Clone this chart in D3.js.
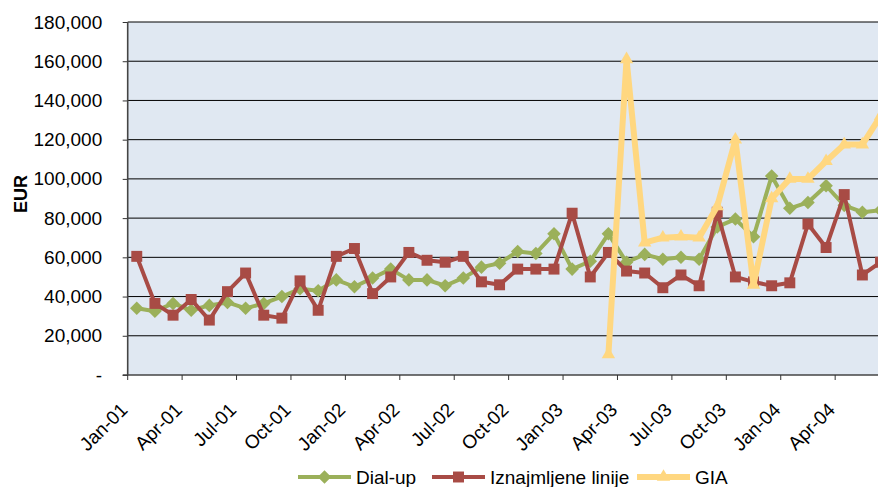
<html><head>
<meta charset="utf-8">
<script src="https://d3js.org/d3.v7.min.js"></script>
<style>
  body { margin: 0; background: white; font-family: "Liberation Sans", Arial, sans-serif; }
  .tick text { font-size: 19px; fill: #000; }
</style>
</head>
<body>
<div id="chart"></div>
<script>
// months Jan-01 .. Jun-04
var months = ["Jan-01","Feb-01","Mar-01","Apr-01","May-01","Jun-01","Jul-01","Aug-01","Sep-01","Oct-01","Nov-01","Dec-01",
  "Jan-02","Feb-02","Mar-02","Apr-02","May-02","Jun-02","Jul-02","Aug-02","Sep-02","Oct-02","Nov-02","Dec-02",
  "Jan-03","Feb-03","Mar-03","Apr-03","May-03","Jun-03","Jul-03","Aug-03","Sep-03","Oct-03","Nov-03","Dec-03",
  "Jan-04","Feb-04","Mar-04","Apr-04","May-04","Jun-04"];

var dialup = [34000,32500,36500,33000,35500,37000,34000,36500,40000,44000,43000,48500,
  45000,49500,54000,48500,48500,45500,49500,55000,57000,63000,62000,72000,
  54000,58000,72000,57500,61500,59000,60000,59000,75500,79500,70500,101500,
  85000,88000,96500,86500,83000,84000];

var leased = [60500,36500,30500,38500,28000,42500,52000,30500,29000,48000,33000,60500,
  64500,41500,50000,62500,58500,57500,60500,47500,46000,54000,54000,54000,
  82500,50000,62500,53000,52000,44500,51000,45500,83000,50000,47500,45500,
  47000,77000,65000,92000,51000,57500];

var gia = [null,null,null,null,null,null,null,null,null,null,null,null,
  null,null,null,null,null,null,null,null,null,null,null,null,
  null,null,10500,161000,67500,70000,70500,70000,86000,120000,46000,90000,
  100000,100000,109000,117500,117500,132000];

var xTickLabels = ["Jan-01","Apr-01","Jul-01","Oct-01","Jan-02","Apr-02","Jul-02","Oct-02","Jan-03","Apr-03","Jul-03","Oct-03","Jan-04","Apr-04"];
var yTicks = [0,20000,40000,60000,80000,100000,120000,140000,160000,180000];
var yTickLabels = ["-","20,000","40,000","60,000","80,000","100,000","120,000","140,000","160,000","180,000"];

var seriesNames = ["Dial-up", "Iznajmljene linije", "GIA"];
var seriesColors = ["#9BB05A", "#A84B45", "#FFD780"];

var chartW = 878, chartH = 487;
var plotLeft = 127.7, plotTop = 22, plotBottom = 375;
var monthW = 18.14;

var svg = d3.select("#chart").append("svg")
  .attr("width", chartW)
  .attr("height", chartH);

var x = d3.scaleLinear().domain([0, months.length]).range([plotLeft, plotLeft + months.length * monthW]);
var y = d3.scaleLinear().domain([0, 180000]).range([plotBottom, plotTop]);

// plot area
svg.append("rect")
  .attr("x", x(0)).attr("y", y(180000))
  .attr("width", x(months.length) - x(0))
  .attr("height", y(0) - y(180000))
  .style("fill", "#E0E8F2");

// gridlines
svg.append("g").selectAll("line")
  .data(yTicks.slice(1))
  .enter().append("line")
  .attr("x1", x(0)).attr("x2", x(months.length))
  .attr("y1", function(d) { return y(d); })
  .attr("y2", function(d) { return y(d); })
  .style("stroke", "#000")
  .style("stroke-width", 1);

// y axis
var yAxis = d3.axisLeft(y)
  .tickValues(yTicks)
  .tickSize(5)
  .tickPadding(20.5)
  .tickFormat(function(d, i) { return yTickLabels[i]; });
var gy = svg.append("g")
  .attr("transform", "translate(" + x(0) + ",0)")
  .call(yAxis);
gy.select(".domain").remove();
gy.selectAll(".tick line").style("stroke", "#333");
gy.selectAll(".tick text").style("font-family", "Liberation Sans, Arial, sans-serif");

svg.append("line")
  .attr("x1", x(0)).attr("x2", x(0))
  .attr("y1", y(180000)).attr("y2", y(0))
  .style("stroke", "#444").style("stroke-width", 1.6);

// x axis
var tickIdx = xTickLabels.map(function(d) { return months.indexOf(d); });
svg.append("line")
  .attr("x1", x(0) - 5).attr("x2", x(months.length))
  .attr("y1", y(0)).attr("y2", y(0))
  .style("stroke", "#444").style("stroke-width", 1.6);

var gx = svg.append("g");
gx.selectAll("line")
  .data(tickIdx)
  .enter().append("line")
  .attr("x1", function(d) { return x(d); })
  .attr("x2", function(d) { return x(d); })
  .attr("y1", y(0)).attr("y2", y(0) + 5)
  .style("stroke", "#333");

gx.selectAll("text")
  .data(tickIdx)
  .enter().append("text")
  .attr("transform", function(d) { return "translate(" + (x(d) + 1) + "," + (y(0) + 36) + ") rotate(-45)"; })
  .attr("text-anchor", "end")
  .style("font-size", "19px")
  .text(function(d, i) { return xTickLabels[i]; });

// y title
svg.append("text")
  .attr("transform", "translate(27,194) rotate(-90)")
  .attr("text-anchor", "middle")
  .style("font-size", "18px")
  .style("font-weight", "bold")
  .text("EUR");

// series
var line = d3.line()
  .defined(function(d) { return d != null; })
  .x(function(d, i) { return x(i + 0.5); })
  .y(function(d) { return y(d); });

var shapes = [d3.symbolSquare, d3.symbolSquare, d3.symbolTriangle];
var shapeSizes = [92, 120, 78];
var shapeRot = [45, 0, 0];
var lineWidths = [4, 4, 6];

[dialup, leased, gia].forEach(function(data, s) {
  var g = svg.append("g");
  g.append("path")
    .datum(data)
    .attr("d", line)
    .style("fill", "none")
    .style("stroke", seriesColors[s])
    .style("stroke-width", lineWidths[s])
    .style("stroke-linejoin", "round");
  g.selectAll("path.pt")
    .data(data.map(function(v, i) { return {v: v, i: i}; }).filter(function(d) { return d.v != null; }))
    .enter().append("path")
    .attr("class", "pt")
    .attr("transform", function(d) { return "translate(" + x(d.i + 0.5) + "," + y(d.v) + ") rotate(" + shapeRot[s] + ")"; })
    .attr("d", d3.symbol().type(shapes[s]).size(shapeSizes[s]))
    .style("fill", seriesColors[s]);
});

// legend
var legendX = [298, 432, 637];
var legendY = 477;
seriesNames.forEach(function(name, s) {
  var g = svg.append("g");
  g.append("line")
    .attr("x1", legendX[s]).attr("x2", legendX[s] + 53)
    .attr("y1", legendY).attr("y2", legendY)
    .style("stroke", seriesColors[s])
    .style("stroke-width", lineWidths[s]);
  g.append("path")
    .attr("transform", "translate(" + (legendX[s] + 26.5) + "," + legendY + ") rotate(" + shapeRot[s] + ")")
    .attr("d", d3.symbol().type(shapes[s]).size(shapeSizes[s]))
    .style("fill", seriesColors[s]);
  g.append("text")
    .attr("x", legendX[s] + 58)
    .attr("y", legendY)
    .attr("dy", "0.35em")
    .style("font-size", "19px")
    .text(name);
});
</script>
</body></html>
